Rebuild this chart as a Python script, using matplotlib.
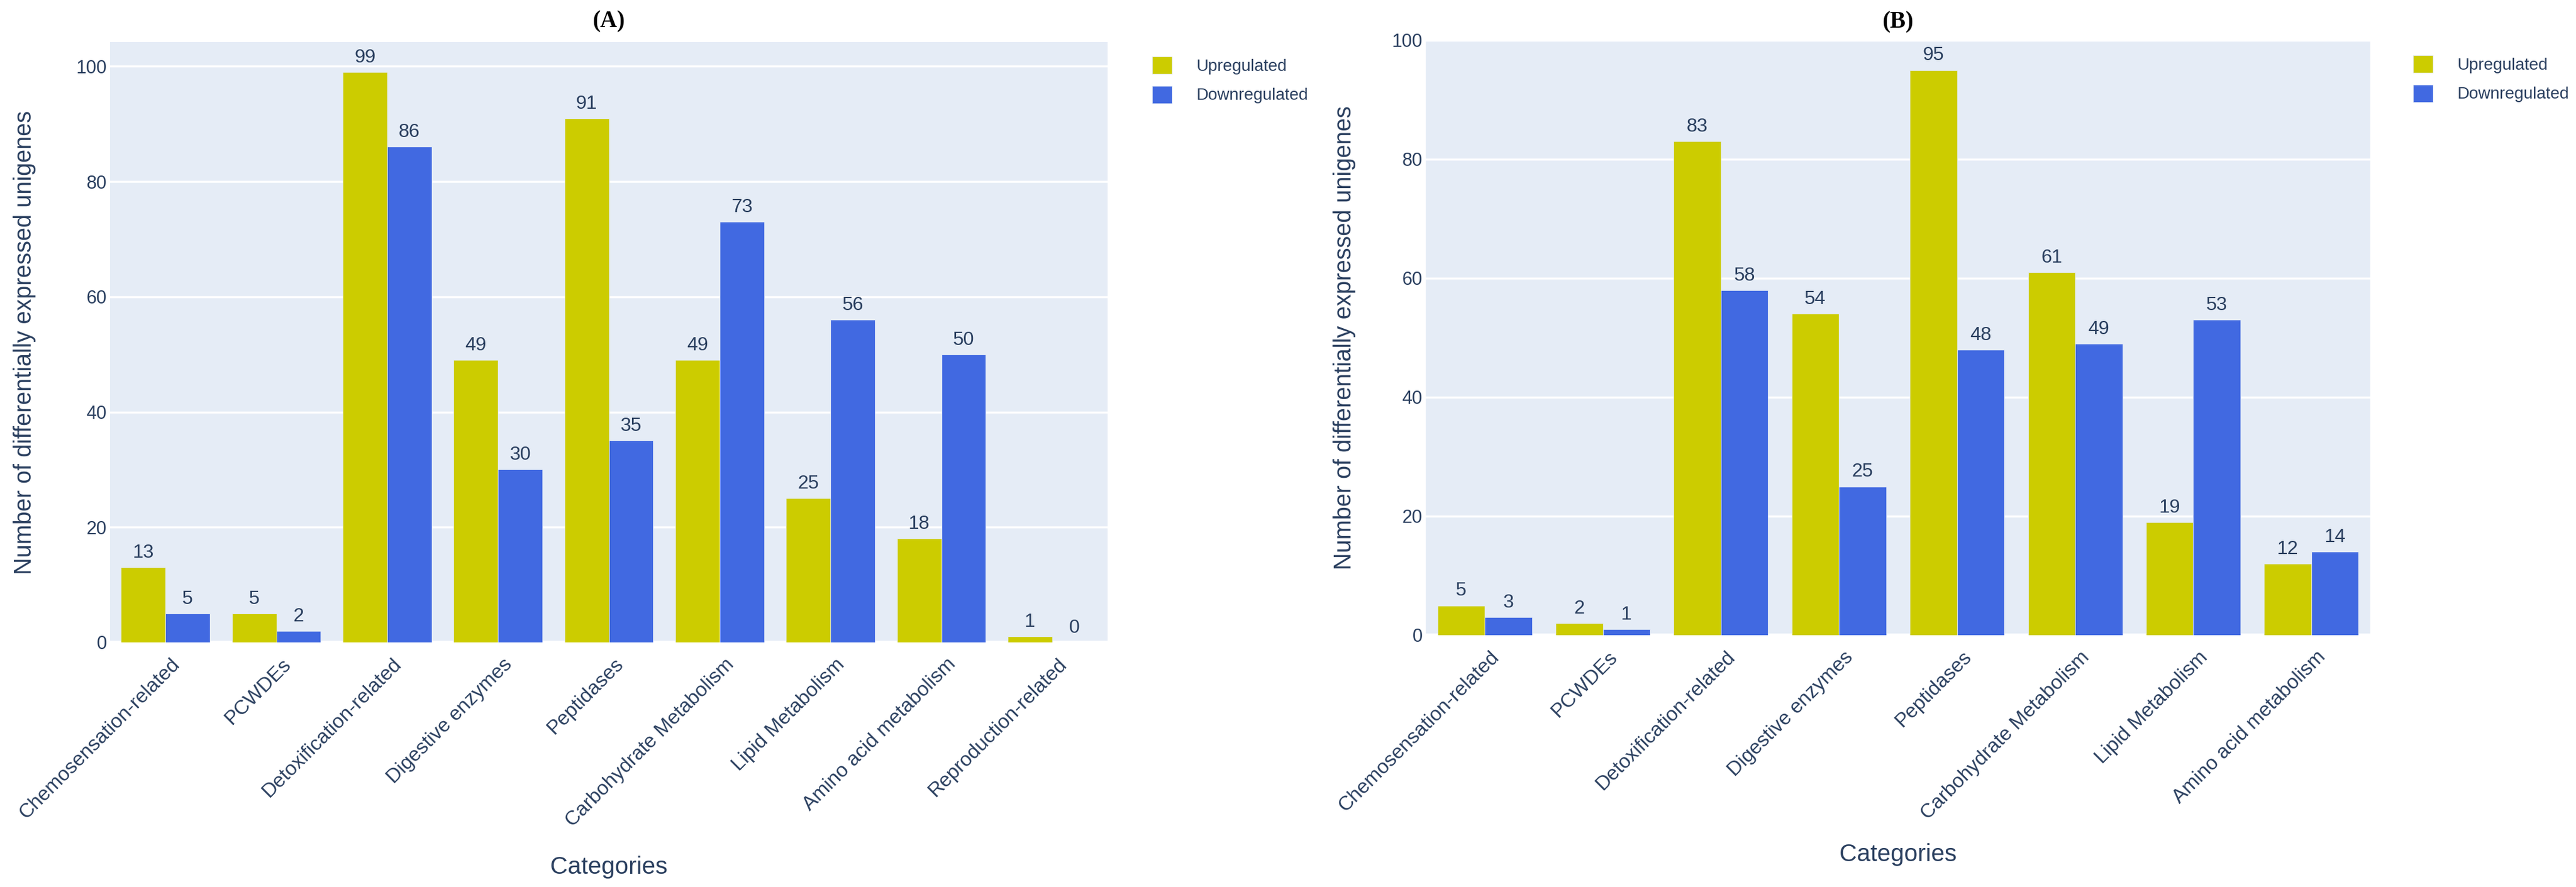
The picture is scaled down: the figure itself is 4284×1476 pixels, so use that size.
import numpy as np
import matplotlib
matplotlib.use("Agg")
import matplotlib.pyplot as plt
from matplotlib.patches import Patch
from matplotlib.transforms import ScaledTranslation

plt.rcParams['font.family'] = ['Liberation Sans', 'DejaVu Sans']

# ---- data ----
categories_A = ['Chemosensation-related', 'PCWDEs', 'Detoxification-related',
                'Digestive enzymes', 'Peptidases', 'Carbohydrate Metabolism',
                'Lipid Metabolism', 'Amino acid metabolism', 'Reproduction-related']
up_A = [13, 5, 99, 49, 91, 49, 25, 18, 1]
down_A = [5, 2, 86, 30, 35, 73, 56, 50, 0]

categories_B = ['Chemosensation-related', 'PCWDEs', 'Detoxification-related',
                'Digestive enzymes', 'Peptidases', 'Carbohydrate Metabolism',
                'Lipid Metabolism', 'Amino acid metabolism']
up_B = [5, 2, 83, 54, 95, 61, 19, 12]
down_B = [3, 1, 58, 25, 48, 49, 53, 14]

series_names = ['Upregulated', 'Downregulated']
yticks_vals = [0, 20, 40, 60, 80, 100]

# ---- style ----
YELLOW = '#CCCC00'
BLUE = '#4169E1'
BG = '#E5ECF6'
TXT = '#2a3f5f'
DPI = 100
W, H = 4284, 1476

fig = plt.figure(figsize=(W / DPI, H / DPI), dpi=DPI)


def px_axes(l, t, r, b):
    return fig.add_axes([l / W, 1 - b / H, (r - l) / W, (b - t) / H])


def panel(ax, cats, up, down, ymax, title, title_y):
    n = len(cats)
    x = np.arange(n)
    w = 0.4
    ax.set_facecolor(BG)
    for s in ax.spines.values():
        s.set_visible(False)
    ax.set_xlim(-0.5, n - 0.5)
    ax.set_ylim(0, ymax)
    ax.set_yticks(yticks_vals)
    ax.grid(axis='y', color='white', linewidth=2.5)
    ax.set_axisbelow(True)
    ax.axhline(0, color='white', linewidth=4, zorder=1.5)
    b1 = ax.bar(x - w / 2, up, width=w, color=YELLOW, edgecolor=BG, linewidth=0.6, zorder=2)
    b2 = ax.bar(x + w / 2, down, width=w, color=BLUE, edgecolor=BG, linewidth=0.6, zorder=2)
    for bars, vals in ((b1, up), (b2, down)):
        for rect, v in zip(bars, vals):
            ax.annotate(str(v), (rect.get_x() + rect.get_width() / 2, v),
                        xytext=(0, 6.5), textcoords='offset points',
                        ha='center', va='bottom', fontsize=23, color=TXT, zorder=3)
    ax.tick_params(axis='both', length=0, colors=TXT)
    ax.tick_params(axis='y', labelsize=22, pad=4)
    ax.tick_params(axis='x', labelsize=24, pad=15)
    ax.set_xticks(x)
    ax.set_xticklabels(cats, rotation=45, ha='right', va='top', rotation_mode='anchor')
    off = ScaledTranslation(8 / DPI, 0, fig.dpi_scale_trans)
    for lab in ax.get_xticklabels():
        lab.set_transform(lab.get_transform() + off)
    ax.set_xlabel('Categories', fontsize=29, color=TXT)
    ax.set_ylabel('Number of differentially expressed unigenes', fontsize=28.5, color=TXT)
    ax.yaxis.label.set_va('center')
    ax.xaxis.label.set_va('center')
    # title
    bb = ax.get_position()
    fig.text((bb.x0 + bb.x1) / 2, 1 - title_y / H, title, ha='center', va='center',
             fontsize=28, fontweight='bold', family='Liberation Serif', color='black')
    handles = [Patch(facecolor=YELLOW, edgecolor=BG, linewidth=0.6),
               Patch(facecolor=BLUE, edgecolor=BG, linewidth=0.6)]
    return handles


axA = px_axes(183, 70, 1842, 1069)
hA = panel(axA, categories_A, up_A, down_A, 104.2, '(A)', 36)
axA.xaxis.set_label_coords(0.5, (1069 - 1443) / 999)
axA.yaxis.set_label_coords((41 - 183) / 1659, 0.5)
axA.legend(hA, series_names, loc='upper left', bbox_to_anchor=((1916 - 183) / 1659, (1069 - 94) / 999),
           frameon=False, fontsize=20, handlelength=1.19, handleheight=1.22,
           handletextpad=1.47, labelspacing=0.68, borderpad=0, borderaxespad=0,
           labelcolor=TXT)

axB = px_axes(2371, 67, 3942, 1057)
hB = panel(axB, categories_B, up_B, down_B, 100, '(B)', 37)
axB.xaxis.set_label_coords(0.5, (1057 - 1422) / 990)
axB.yaxis.set_label_coords((2236 - 2371) / 1571, 0.5)
axB.legend(hB, series_names, loc='upper left', bbox_to_anchor=((4013 - 2371) / 1571, (1057 - 92) / 990),
           frameon=False, fontsize=20, handlelength=1.19, handleheight=1.22,
           handletextpad=1.47, labelspacing=0.68, borderpad=0, borderaxespad=0,
           labelcolor=TXT)

fig.savefig('out.png', dpi=DPI, facecolor='white')
